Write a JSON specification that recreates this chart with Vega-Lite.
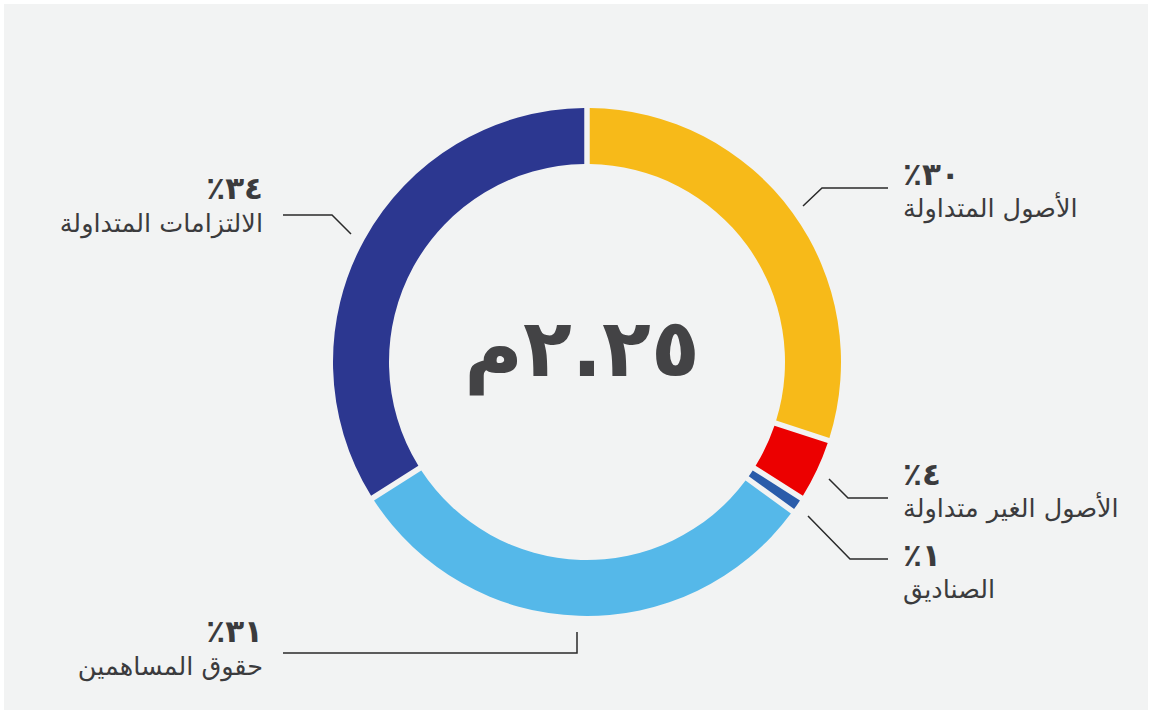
{
  "$schema": "https://vega.github.io/schema/vega-lite/v6.json",
  "width": 1144,
  "height": 706,
  "autosize": {"type": "none"},
  "padding": {"left": 4, "top": 4, "right": 4, "bottom": 4},
  "background": "#ffffff",
  "config": {"view": {"fill": "#f2f3f3", "stroke": null}, "font": "DejaVu Sans"},
  "datasets": {
    "segments": [
      {"name": "الأصول المتداولة", "value": 30, "rank": 1},
      {"name": "الأصول الغير متداولة", "value": 4, "rank": 2},
      {"name": "الصناديق", "value": 1, "rank": 3},
      {"name": "حقوق المساهمين", "value": 31, "rank": 4},
      {"name": "الالتزامات المتداولة", "value": 34, "rank": 5}
    ],
    "labels": [
      {"text": "٪٣٠", "kind": "pct", "side": "right", "x": 903, "y": 185},
      {"text": "الأصول المتداولة", "kind": "name", "side": "right", "x": 903, "y": 217},
      {"text": "٪٤", "kind": "pct", "side": "right", "x": 903, "y": 485},
      {"text": "الأصول الغير متداولة", "kind": "name", "side": "right", "x": 903, "y": 517},
      {"text": "٪١", "kind": "pct", "side": "right", "x": 903, "y": 566},
      {"text": "الصناديق", "kind": "name", "side": "right", "x": 903, "y": 598},
      {"text": "٪٣٤", "kind": "pct", "side": "left", "x": 263, "y": 199},
      {"text": "الالتزامات المتداولة", "kind": "name", "side": "left", "x": 263, "y": 232},
      {"text": "٪٣١", "kind": "pct", "side": "left", "x": 263, "y": 642},
      {"text": "حقوق المساهمين", "kind": "name", "side": "left", "x": 263, "y": 675}
    ],
    "leaders": [
      {"seg": "a", "k": 1, "x": 803, "y": 206},
      {"seg": "a", "k": 2, "x": 822, "y": 188},
      {"seg": "a", "k": 3, "x": 888, "y": 188},
      {"seg": "b", "k": 1, "x": 829, "y": 479},
      {"seg": "b", "k": 2, "x": 848, "y": 498},
      {"seg": "b", "k": 3, "x": 888, "y": 498},
      {"seg": "c", "k": 1, "x": 808, "y": 516},
      {"seg": "c", "k": 2, "x": 850, "y": 559},
      {"seg": "c", "k": 3, "x": 888, "y": 559},
      {"seg": "d", "k": 1, "x": 351, "y": 234},
      {"seg": "d", "k": 2, "x": 332, "y": 215},
      {"seg": "d", "k": 3, "x": 283, "y": 215},
      {"seg": "e", "k": 1, "x": 577, "y": 632},
      {"seg": "e", "k": 2, "x": 577, "y": 653},
      {"seg": "e", "k": 3, "x": 283, "y": 653}
    ],
    "center": [
      {"text": "٢.٢٥م", "x": 582, "y": 376}
    ]
  },
  "layer": [
    {
      "data": {"name": "segments"},
      "mark": {"type": "arc", "radius": 254, "radius2": 198, "padAngle": 0.017},
      "encoding": {
        "theta": {"field": "value", "type": "quantitative", "stack": true},
        "order": {"field": "rank", "type": "quantitative"},
        "color": {
          "field": "name",
          "type": "nominal",
          "scale": {
            "domain": ["الأصول المتداولة", "الأصول الغير متداولة", "الصناديق", "حقوق المساهمين", "الالتزامات المتداولة"],
            "range": ["#F7BA19", "#EC0000", "#2A5CAA", "#55B8E9", "#2C3790"]
          },
          "legend": null
        },
        "x": {"datum": 587, "type": "quantitative", "scale": {"domain": [4, 1148], "nice": false, "zero": false}, "axis": null},
        "y": {"datum": 362, "type": "quantitative", "scale": {"domain": [4, 710], "nice": false, "zero": false, "reverse": true}, "axis": null}
      }
    },
    {
      "data": {"name": "leaders"},
      "mark": {"type": "line", "color": "#2a2a2a", "strokeWidth": 1.5},
      "encoding": {
        "x": {"field": "x", "type": "quantitative"},
        "y": {"field": "y", "type": "quantitative"},
        "detail": {"field": "seg", "type": "nominal"},
        "order": {"field": "k", "type": "quantitative"}
      }
    },
    {
      "data": {"name": "labels"},
      "transform": [{"filter": "datum.side == 'right' && datum.kind == 'pct'"}],
      "mark": {"type": "text", "align": "left", "baseline": "alphabetic", "fontSize": 31, "fontWeight": "bold", "color": "#3b3b3d"},
      "encoding": {
        "x": {"field": "x", "type": "quantitative"},
        "y": {"field": "y", "type": "quantitative"},
        "text": {"field": "text"}
      }
    },
    {
      "data": {"name": "labels"},
      "transform": [{"filter": "datum.side == 'right' && datum.kind == 'name'"}],
      "mark": {"type": "text", "align": "left", "baseline": "alphabetic", "fontSize": 25.5, "color": "#3b3b3d"},
      "encoding": {
        "x": {"field": "x", "type": "quantitative"},
        "y": {"field": "y", "type": "quantitative"},
        "text": {"field": "text"}
      }
    },
    {
      "data": {"name": "labels"},
      "transform": [{"filter": "datum.side == 'left' && datum.kind == 'pct'"}],
      "mark": {"type": "text", "align": "right", "baseline": "alphabetic", "fontSize": 31, "fontWeight": "bold", "color": "#3b3b3d"},
      "encoding": {
        "x": {"field": "x", "type": "quantitative"},
        "y": {"field": "y", "type": "quantitative"},
        "text": {"field": "text"}
      }
    },
    {
      "data": {"name": "labels"},
      "transform": [{"filter": "datum.side == 'left' && datum.kind == 'name'"}],
      "mark": {"type": "text", "align": "right", "baseline": "alphabetic", "fontSize": 25.5, "color": "#3b3b3d"},
      "encoding": {
        "x": {"field": "x", "type": "quantitative"},
        "y": {"field": "y", "type": "quantitative"},
        "text": {"field": "text"}
      }
    },
    {
      "data": {"name": "center"},
      "mark": {"type": "text", "align": "center", "baseline": "alphabetic", "fontSize": 80, "fontWeight": "bold", "color": "#434345"},
      "encoding": {
        "x": {"field": "x", "type": "quantitative"},
        "y": {"field": "y", "type": "quantitative"},
        "text": {"field": "text"}
      }
    }
  ]
}
